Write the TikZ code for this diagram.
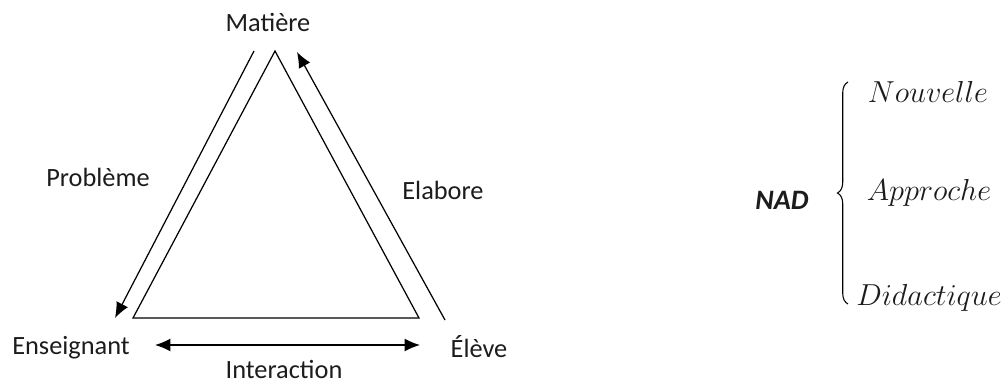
\documentclass[tikz,border=0pt]{standalone}
\usepackage{fontspec}
\setmainfont{Carlito}
\usetikzlibrary{arrows.meta,decorations.pathreplacing}
\definecolor{ink}{HTML}{1C1C1C}

\begin{document}
\begin{tikzpicture}[font=\fontsize{15}{18}\selectfont,text=ink,>={Latex[length=3.1mm,width=2.6mm]},
  x=.02cm,y=-.02cm,line width=.7pt]
  \useasboundingbox (0,0) rectangle (1005,383);
  \node (matiere) at (268,22) {Matière};
  \node (enseignant) at (71,348) {Enseignant};
  \node (eleve) at (479,347) {Élève};
  \node (probleme) at (98,177) {Problème};
  \node (elabore) at (443,190) {Elabore};
  \node[inner sep=1pt] (interaction) at (284,369) {Interaction};
  % triangle
  \coordinate (top) at (275,51);
  \coordinate (left) at (133,318);
  \coordinate (right) at (419,318);
  \draw (left)--(top)--(right)--cycle;
  \coordinate (pbA) at (254,51);
  \coordinate (pbB) at (115,318);
  \draw[->] (pbA)--(pbB);
  \coordinate (elA) at (445,320);
  \coordinate (elB) at (297,52);
  \draw[->] (elA)--(elB);
  \coordinate (inA) at (155,345);
  \coordinate (inB) at (420,345);
  \draw[<->] (inA)--(inB);
  % NAD
  \node[font=\fontsize{16}{19}\selectfont\bfseries\itshape] (nad) at (782,200) {NAD};
  \coordinate (brB) at (848,304);
  \coordinate (brT) at (848,82);
  \draw[decorate,decoration={brace,amplitude=6pt},line width=.6pt] (brB)--(brT);
  \node[font=\fontsize{17}{20}\selectfont] (nouvelle) at (928,92) {$Nouvelle$};
  \node[font=\fontsize{17}{20}\selectfont] (approche) at (929,193) {$Approche$};
  \node[font=\fontsize{17}{20}\selectfont] (didactique) at (929,298) {$Didactique$};
\end{tikzpicture}
\end{document}
